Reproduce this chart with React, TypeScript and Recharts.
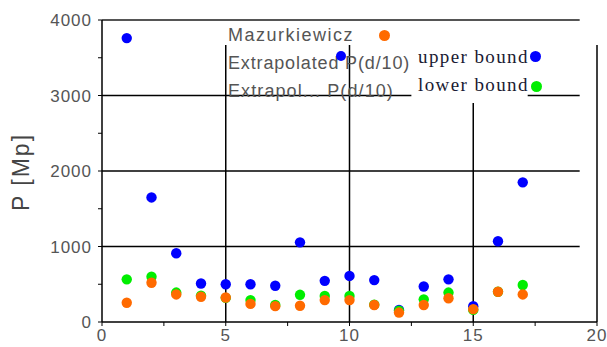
import React from 'react';
import { ScatterChart, Scatter, XAxis, YAxis, ReferenceLine } from 'recharts';

// diameter index (x) and the three measured series
const positions = [1, 2, 3, 4, 5, 6, 7, 8, 9, 10, 11, 12, 13, 14, 15, 16, 17];
const upperBound = [3760, 1650, 910, 510, 500, 500, 480, 1055, 545, 610, 555, 160, 470, 565, 210, 1070, 1850];
const lowerBound = [565, 600, 390, 350, 320, 290, 225, 360, 345, 345, 230, 150, 300, 390, 160, 400, 490];
const mazurkiewicz = [255, 520, 365, 335, 325, 240, 210, 215, 290, 290, 225, 125, 225, 315, 170, 400, 365];

const xTicks = [0, 2.5, 5, 7.5, 10, 12.5, 15, 17.5, 20];
const yTicks = [0, 500, 1000, 1500, 2000, 2500, 3000, 3500, 4000];

const BLUE = '#0000ff';
const GREEN = '#00ee00';
const ORANGE = '#ff6a00';

const toPoints = (vals: number[]) => positions.map((x, i) => ({ x, y: vals[i] }));

const dot = (color: string) => (props: any) => (
  <circle cx={props.cx} cy={props.cy} r={5.2} fill={color} />
);

const tickStyle = { fill: '#555', fontSize: 17, fontFamily: 'Liberation Sans, Arial, sans-serif', letterSpacing: 1 };

const App: React.FC = () => {
  return (
    <div style={{ position: 'absolute', left: 0, top: 0, width: 607, height: 347, background: '#fff' }}>
      <ScatterChart width={607} height={347} margin={{ top: 20, right: 10, bottom: 3, left: 22 }}>
        <XAxis
          type="number"
          dataKey="x"
          domain={[0, 20]}
          ticks={xTicks}
          interval={0}
          tickFormatter={(v: number) => (v % 5 === 0 ? String(v) : '')}
          tick={tickStyle}
          tickSize={4}
          tickMargin={3}
          height={22}
          axisLine={{ stroke: '#000', strokeWidth: 1.5 }}
          tickLine={{ stroke: '#000' }}
        />
        <YAxis
          type="number"
          dataKey="y"
          domain={[0, 4000]}
          ticks={yTicks}
          interval={0}
          tickFormatter={(v: number) => (v % 1000 === 0 ? String(v) : '')}
          tick={tickStyle}
          tickSize={4}
          tickMargin={6}
          width={80}
          axisLine={{ stroke: '#000', strokeWidth: 1.5 }}
          tickLine={{ stroke: '#000' }}
          label={{
            content: () => (
              <text
                x={29}
                y={172}
                transform="rotate(-90, 29, 172)"
                textAnchor="middle"
                fill="#444"
                fontSize={23}
                letterSpacing={2}
                fontFamily="Liberation Sans, Arial, sans-serif"
              >
                P [Mp]
              </text>
            ),
          }}
        />

        {/* frame and grid, drawn as the original export shows them */}
        <ReferenceLine segment={[{ x: 0, y: 4000 }, { x: 19.3, y: 4000 }]} stroke="#555" strokeWidth={2} />
        <ReferenceLine segment={[{ x: 20, y: 0 }, { x: 20, y: 3670 }]} stroke="#000" strokeWidth={1.5} />
        <ReferenceLine segment={[{ x: 0, y: 1000 }, { x: 19.3, y: 1000 }]} stroke="#000" strokeWidth={1.5} />
        <ReferenceLine segment={[{ x: 0, y: 2000 }, { x: 19.3, y: 2000 }]} stroke="#000" strokeWidth={1.5} />
        <ReferenceLine segment={[{ x: 0, y: 3000 }, { x: 12.5, y: 3000 }]} stroke="#000" strokeWidth={1.5} />
        <ReferenceLine segment={[{ x: 17.2, y: 3000 }, { x: 19.3, y: 3000 }]} stroke="#000" strokeWidth={1.5} />
        <ReferenceLine segment={[{ x: 5, y: 0 }, { x: 5, y: 3670 }]} stroke="#000" strokeWidth={1.5} />
        <ReferenceLine segment={[{ x: 10, y: 0 }, { x: 10, y: 3670 }]} stroke="#000" strokeWidth={1.5} />
        <ReferenceLine segment={[{ x: 15, y: 0 }, { x: 15, y: 2900 }]} stroke="#000" strokeWidth={1.5} />

        <Scatter data={toPoints(upperBound)} shape={dot(BLUE)} isAnimationActive={false} />
        <Scatter data={toPoints(lowerBound)} shape={dot(GREEN)} isAnimationActive={false} />
        <Scatter data={toPoints(mazurkiewicz)} shape={dot(ORANGE)} isAnimationActive={false} />
      </ScatterChart>

      {/* Legends */}
      <div style={{ position: 'absolute', left: 228, top: 21, fontFamily: 'Liberation Sans, Arial, sans-serif', fontSize: 18, color: '#555', lineHeight: '28px', whiteSpace: 'nowrap' }}>
        <div style={{ letterSpacing: 1.5 }}>Mazurkiewicz</div>
        <div style={{ letterSpacing: 0.85 }}>Extrapolated P(d/10)</div>
        <div style={{ letterSpacing: 1.1 }}>Extrapol... P(d/10)</div>
      </div>
      <div style={{ position: 'absolute', left: 379, top: 30, width: 11, height: 11, borderRadius: '50%', background: ORANGE }} />
      <div style={{ position: 'absolute', left: 336, top: 51, width: 10, height: 10, borderRadius: '50%', background: BLUE }} />
      <div style={{ position: 'absolute', left: 418, top: 43, fontFamily: 'Liberation Serif, Times New Roman, serif', fontSize: 19, letterSpacing: 1.4, color: '#1a1a33', lineHeight: '28px', whiteSpace: 'nowrap' }}>
        <div>upper bound</div>
        <div>lower bound</div>
      </div>
      <div style={{ position: 'absolute', left: 530, top: 51, width: 11, height: 11, borderRadius: '50%', background: BLUE }} />
      <div style={{ position: 'absolute', left: 531, top: 81, width: 11, height: 11, borderRadius: '50%', background: GREEN }} />
    </div>
  );
};

export default App;
